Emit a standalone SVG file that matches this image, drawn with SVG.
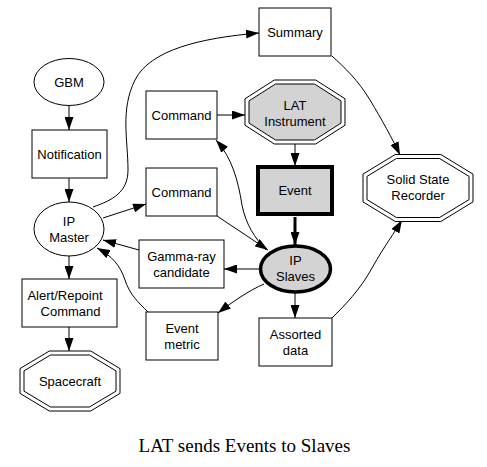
<svg xmlns="http://www.w3.org/2000/svg" width="487" height="467" viewBox="0 0 487 467">
<style>
.n{fill:#fff;stroke:#000;stroke-width:1}
.g{fill:#d3d3d3;stroke:#000}
.t{font-family:"Liberation Sans",Arial,sans-serif;font-size:13px;text-anchor:middle;fill:#000}
.e{fill:none;stroke:#000;stroke-width:1}
.cap{font-family:"Liberation Serif","Times New Roman",serif;font-size:19px;text-anchor:middle;fill:#000}
</style>
<defs>
<marker id="a" markerUnits="userSpaceOnUse" markerWidth="13" markerHeight="9" refX="13" refY="4.5" orient="auto" viewBox="0 0 13 9">
<path d="M0,0 L13,4.5 L0,9 z" fill="#000"/>
</marker>
</defs>
<rect width="487" height="467" fill="#fff"/>
<g id="edges">
<path class="e" d="M69,106 L69,130" marker-end="url(#a)"/>
<path class="e" d="M69,178 L69,202" marker-end="url(#a)"/>
<path class="e" d="M93,207 C113,200 128,192 128,170 C128,140 120,110 135,80 C150,50 200,38 259,33" marker-end="url(#a)"/>
<path class="e" d="M103,218 L146,204" marker-end="url(#a)"/>
<path class="e" d="M217,115 L245,115" marker-end="url(#a)"/>
<path class="e" d="M295,144 L295,166" marker-end="url(#a)"/>
<path class="e" d="M295,217 L295,245" style="stroke-width:3" marker-end="url(#a)"/>
<path class="e" d="M266,250 C255,238 246,225 242,205 C238,180 232,158 216,140" marker-end="url(#a)"/>
<path class="e" d="M217,216 L268,250" marker-end="url(#a)"/>
<path class="e" d="M259,269 L224,269" marker-end="url(#a)"/>
<path class="e" d="M264,284 C250,290 232,302 218,313" marker-end="url(#a)"/>
<path class="e" d="M295,293 L295,318" marker-end="url(#a)"/>
<path class="e" d="M139,250 L103,240" marker-end="url(#a)"/>
<path class="e" d="M148,312 C138,302 130,295 125,280 C120,265 112,256 97,248" marker-end="url(#a)"/>
<path class="e" d="M69,256 L69,279" marker-end="url(#a)"/>
<path class="e" d="M69,327 L69,351" marker-end="url(#a)"/>
<path class="e" d="M332,56 C345,68 358,80 370,100 C382,120 392,138 400,155" marker-end="url(#a)"/>
<path class="e" d="M332,318 C345,305 360,290 372,268 C385,245 395,232 402,220" marker-end="url(#a)"/>
</g>
<g id="gbm"><ellipse class="n" cx="69" cy="82" rx="35" ry="23.5"/><text class="t" x="69" y="86.5">GBM</text></g>
<g id="notification"><rect class="n" x="32" y="130" width="75" height="48"/><text class="t" x="69.5" y="158.5">Notification</text></g>
<g id="ipmaster"><ellipse class="n" cx="69" cy="229" rx="35" ry="27"/><text class="t" x="69" y="226">IP</text><text class="t" x="69" y="242">Master</text></g>
<g id="alert"><rect class="n" x="22" y="279" width="95" height="48"/><text class="t" x="65" y="299.5">Alert/Repoint</text><text class="t" x="70.5" y="315.5">Command</text></g>
<g id="spacecraft"><polygon class="n" points="49.3,351 90.7,351 120,368.6 120,393.4 90.7,411 49.3,411 20,393.4 20,368.6"/><polygon class="n" points="50.5,355 89.5,355 116,370.9 116,391.1 89.5,407 50.5,407 24,391.1 24,370.9"/><text class="t" x="70" y="385.5">Spacecraft</text></g>
<g id="command1"><rect class="n" x="146" y="91" width="71" height="48"/><text class="t" x="181.5" y="119.5">Command</text></g>
<g id="command2"><rect class="n" x="146" y="168" width="71" height="48"/><text class="t" x="181.5" y="196.5">Command</text></g>
<g id="summary"><rect class="n" x="259" y="8" width="72" height="48"/><text class="t" x="295" y="36.5">Summary</text></g>
<g id="lat"><polygon class="g" points="274.3,80 315.7,80 345,98.75 345,125.25 315.7,144 274.3,144 245,125.25 245,98.75" style="fill:#fff"/><polygon class="g" points="275.5,84 314.5,84 341,100.9 341,123.1 314.5,140 275.5,140 249,123.1 249,100.9"/><text class="t" x="295" y="109.5">LAT</text><text class="t" x="295" y="125.5">Instrument</text></g>
<g id="event"><rect class="g" x="258" y="167" width="74" height="47" style="stroke-width:4"/><text class="t" x="295" y="195">Event</text></g>
<g id="ssr"><polygon class="n" points="395.2,154.5 440.8,154.5 473,174.1 473,201.9 440.8,221.5 395.2,221.5 363,201.9 363,174.1"/><polygon class="n" points="396.4,158.5 439.6,158.5 469,176.4 469,199.6 439.6,217.5 396.4,217.5 367,199.6 367,176.4"/><text class="t" x="418" y="184">Solid State</text><text class="t" x="418" y="200">Recorder</text></g>
<g id="ipslaves"><ellipse class="g" cx="295.5" cy="269" rx="35" ry="23" style="stroke-width:3.5"/><text class="t" x="295.5" y="265">IP</text><text class="t" x="295.5" y="281">Slaves</text></g>
<g id="gamma"><rect class="n" x="139" y="240" width="85" height="48"/><text class="t" x="181.5" y="260.5">Gamma-ray</text><text class="t" x="181.5" y="276.5">candidate</text></g>
<g id="metric"><rect class="n" x="146" y="312" width="72" height="48"/><text class="t" x="182" y="333">Event</text><text class="t" x="182" y="349">metric</text></g>
<g id="assorted"><rect class="n" x="259" y="318" width="73" height="48"/><text class="t" x="295.5" y="338.5">Assorted</text><text class="t" x="295.5" y="354.5">data</text></g>
<text class="cap" x="244.5" y="451.5">LAT sends Events to Slaves</text>
</svg>
